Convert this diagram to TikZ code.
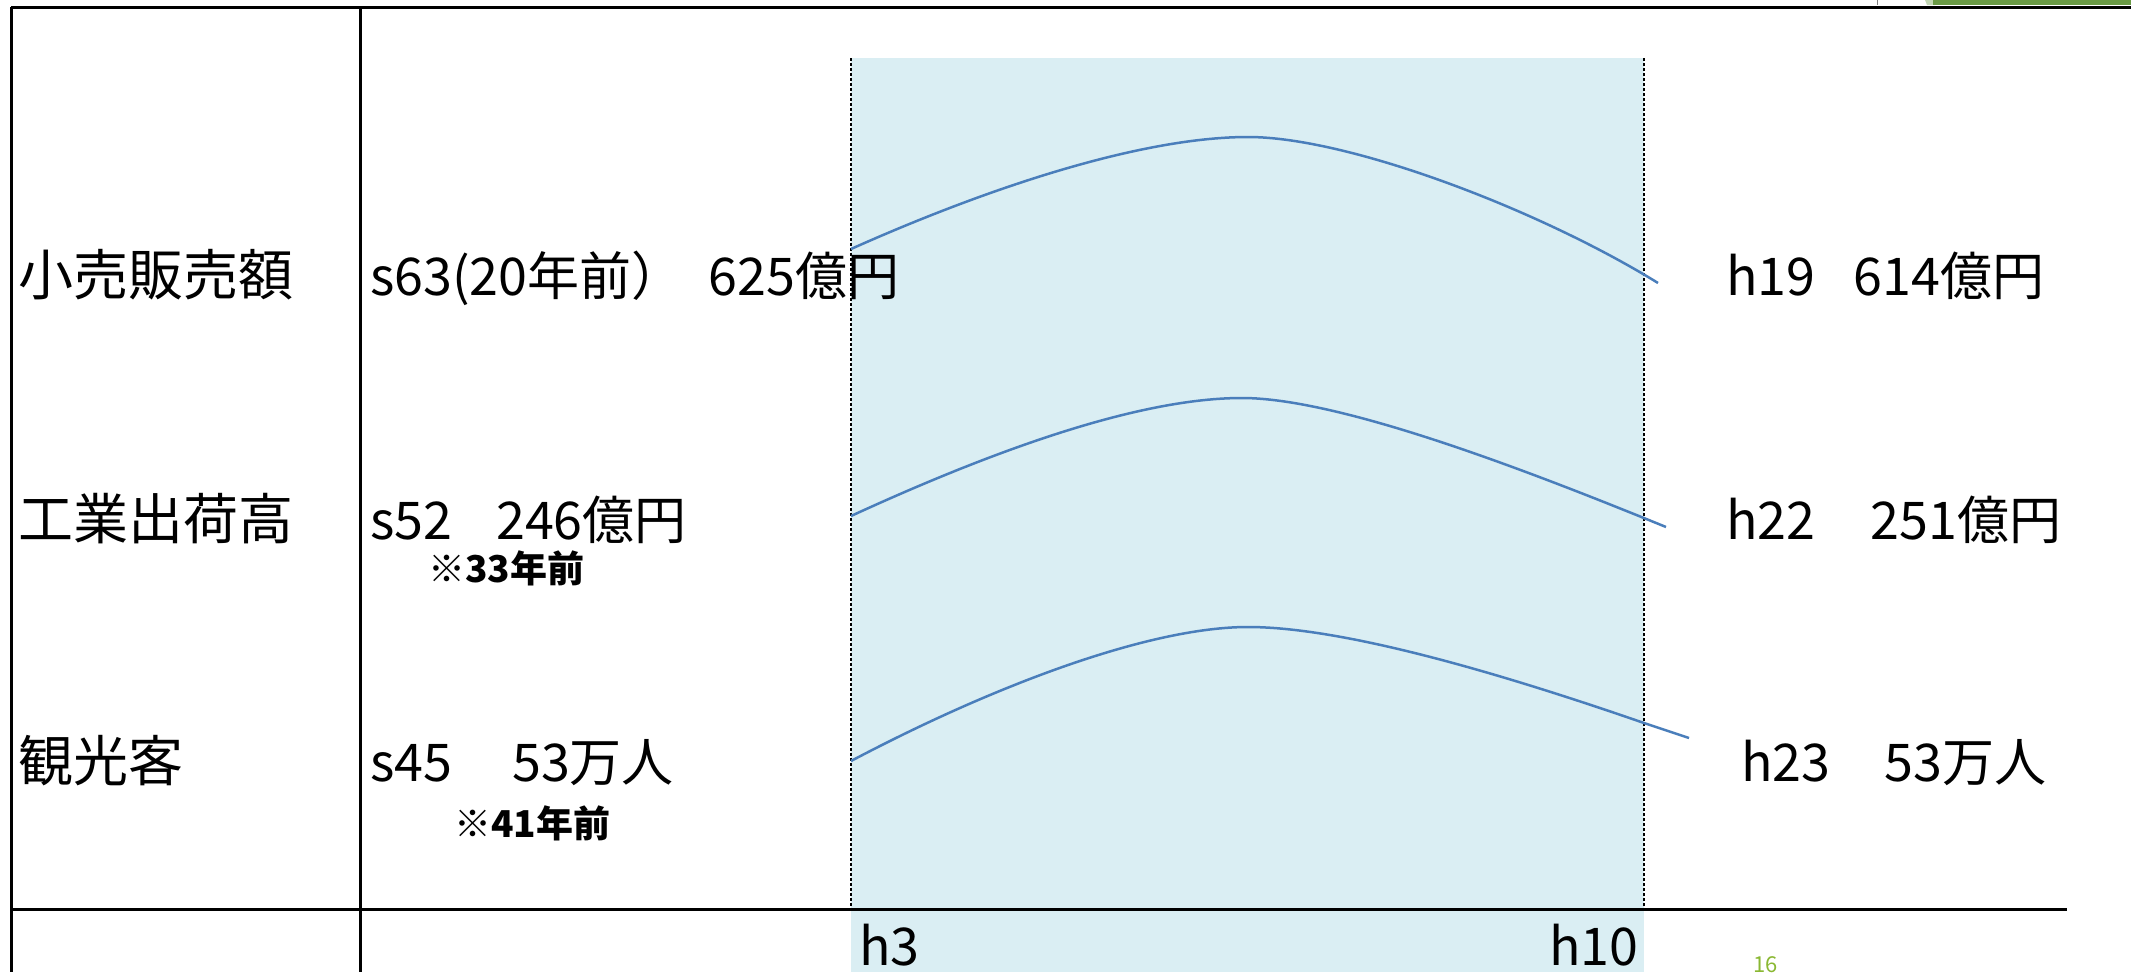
\documentclass[tikz,border=0pt]{standalone}
\usepackage{fontspec}
\setmainfont{Noto Sans CJK JP}
\definecolor{bandblue}{HTML}{DAEEF3}
\definecolor{curveblue}{HTML}{4A7EBB}
\definecolor{pagegreen}{HTML}{6A9A45}
\definecolor{numgreen}{HTML}{8AB833}
\begin{document}
\begin{tikzpicture}[x=1pt,y=-1pt,
  rowlabel/.style={anchor=base west,inner sep=0pt,font=\fontsize{55}{60}\selectfont},
  val/.style={anchor=base west,inner sep=0pt,font=\fontsize{52}{56}\selectfont},
  note/.style={anchor=base west,inner sep=0pt,font=\fontsize{37}{40}\selectfont\bfseries},
  frame/.style={line width=3pt,black},
  band/.style={black,line width=1.5pt,densely dashed},
  trend/.style={curveblue,line width=2.5pt}]
\useasboundingbox (0,0) rectangle (2131,972);
% shaded period
\fill[bandblue] (851,58) rectangle (1644,972);
\draw[band] (851,58) -- (851,909);
\draw[band] (1644,58) -- (1644,909);
% page decoration
\fill[pagegreen!40] (1925,0) -- (1933,0) -- (1935,5) -- (1927,5) -- cycle;
\fill[pagegreen] (1933,0) rectangle (2131,5);
\draw[gray,line width=1pt] (1877,0) -- (1877,5);
% frame
\draw[frame] (11,7) -- (2131,7);
\draw[frame] (11,7) -- (11,972);
\draw[frame] (360,7) -- (360,972);
\draw[frame] (11,909) -- (2067,909);
% curves
\coordinate (a1) at (851,249); \coordinate (p1) at (1248,137); \coordinate (b1) at (1658,283);
\coordinate (a2) at (851,516); \coordinate (p2) at (1242,398); \coordinate (b2) at (1666,527);
\coordinate (a3) at (851,761); \coordinate (p3) at (1248,627); \coordinate (m3) at (1644,723); \coordinate (b3) at (1689,738);
\draw[trend] (a1) .. controls (1001,182) and (1148,137) .. (p1) .. controls (1348,137) and (1538,209) .. (b1);
\draw[trend] (a2) .. controls (1001,447) and (1142,398) .. (p2) .. controls (1342,398) and (1536,474) .. (b2);
\draw[trend] (a3) .. controls (991,687) and (1148,627) .. (p3) .. controls (1348,627) and (1514,678) .. (m3) -- (b3);
% row labels
\node[rowlabel] (r1) at (18,295) {小売販売額};
\node[rowlabel] (r2) at (18,539) {工業出荷高};
\node[rowlabel] (r3) at (18,781) {観光客};
% start values
\node[val] (s1) at (370,295) {s63(20年前）\hspace{25pt}625億円};
\node[val] (s2) at (370,539) {s52\hspace{44pt}246億円};
\node[note] (n2) at (428,582) {※33年前};
\node[val] (s3) at (370,781) {s45\hspace{60pt}53万人};
\node[note] (n3) at (454,837) {※41年前};
% end values
\node[val] (e1) at (1726,295) {h19\hspace{38pt}614億円};
\node[val] (e2) at (1726,539) {h22\hspace{55pt}251億円};
\node[val] (e3) at (1741,781) {h23\hspace{54pt}53万人};
% axis
\node[val] (h3) at (859,965) {h3};
\node[val] (h10) at (1549,965) {h10};
\node[anchor=base west,inner sep=0pt,font=\fontsize{22}{24}\selectfont,text=numgreen] (pg) at (1753,972) {16};
\end{tikzpicture}
\end{document}
